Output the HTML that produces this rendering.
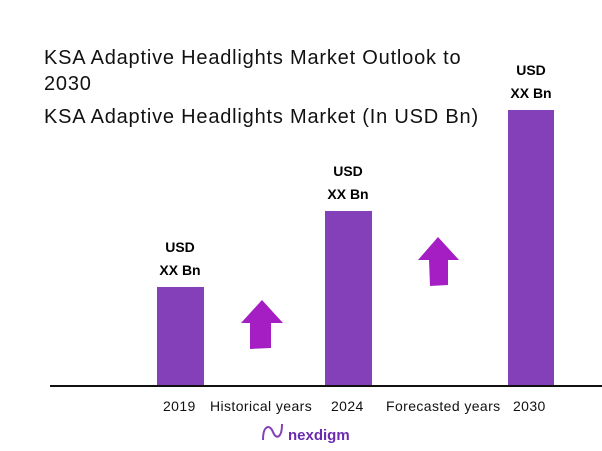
<!DOCTYPE html>
<html><head><style>
body{margin:0;width:602px;height:451px;background:#fff;position:relative;overflow:hidden;font-family:"Liberation Sans",sans-serif}
.t{position:absolute;left:44px;font-size:20px;color:#111;white-space:nowrap;letter-spacing:0.8px}
.bar{position:absolute;background:#8440b9}
.lbl{position:absolute;font-weight:bold;font-size:14px;text-align:center;width:80px;color:#000;line-height:23px}
.yr{position:absolute;top:398px;font-size:14px;color:#111;white-space:nowrap;letter-spacing:0.4px}
</style></head><body>
<div class="t" style="top:47px">KSA Adaptive Headlights Market Outlook to</div>
<div class="t" style="top:73px">2030</div>
<div class="t" style="top:106px">KSA Adaptive Headlights Market (In USD Bn)</div>
<div class="bar" style="left:157px;top:287px;width:47px;height:99px"></div>
<div class="bar" style="left:325px;top:211px;width:47px;height:175px"></div>
<div class="bar" style="left:508px;top:110px;width:46px;height:276px"></div>
<div class="lbl" style="left:140px;top:236px">USD<br>XX Bn</div>
<div class="lbl" style="left:308px;top:160px">USD<br>XX Bn</div>
<div class="lbl" style="left:491px;top:59px">USD<br>XX Bn</div>
<div style="position:absolute;left:50px;top:385px;width:552px;height:2px;background:#111"></div>
<div class="yr" style="left:163px">2019</div>
<div class="yr" style="left:210px">Historical years</div>
<div class="yr" style="left:331px">2024</div>
<div class="yr" style="left:386px">Forecasted years</div>
<div class="yr" style="left:513px">2030</div>
<svg style="position:absolute;left:0;top:0" width="602" height="451">
<polygon points="262,300 283,323 271,323 271,348 250,349 250,323 241,323" fill="#a51ec4"/>
<polygon points="438,237 459,260 448,260 448,285 430,286 429,260 418,260" fill="#a51ec4"/>
<path d="M263,440 C263,425 270,424 273,432 C276,440 282,438 282,424" stroke="#8440b9" stroke-width="2" fill="none"/>
<text x="288" y="440" font-family="Liberation Sans" font-size="15" font-weight="bold" fill="#6a2bb0">nexdigm</text>
</svg>
</body></html>
